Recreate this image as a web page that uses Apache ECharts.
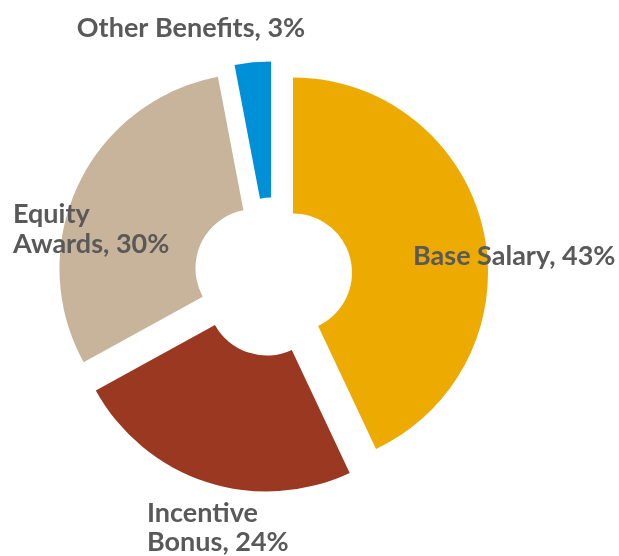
<!DOCTYPE html>
<html>
<head>
<meta charset="utf-8">
<script src="https://cdn.jsdelivr.net/npm/echarts@6/dist/echarts.min.js"></script>
<style>
  html, body { margin: 0; padding: 0; background: #fff; }
  #chart { width: 619px; height: 556px; }
</style>
</head>
<body>
<div id="chart"></div>
<script>
// slices, clockwise from 12 o'clock
const names = ['Base Salary', 'Incentive Bonus', 'Equity Awards', 'Other Benefits']
const shares = [43, 24, 30, 3]
const labelNames = ['Base Salary', 'Incentive\nBonus', 'Equity\nAwards', 'Other Benefits']

const colors = ['#EDAA00', '#9A3822', '#C8B49A', '#0090D8']
// where each label sits: [x, y, align]
const labelSpots = [[413, 256.5, 'left'], [147, 528, 'left'], [13, 229.5, 'left'], [191, 28, 'center']]

const chart = echarts.init(document.getElementById('chart'), null, { renderer: 'canvas' })

const pieCenter = [273, 277]
const pieRadius = [59, 195]

chart.setOption({
  backgroundColor: '#fff',
  series: [
    {
      // the exploded donut
      type: 'pie',
      z: 2,
      center: pieCenter,
      radius: pieRadius,
      startAngle: 90,
      selectedMode: 'multiple',
      selectedOffset: 20.5,
      silent: true,
      animation: false,
      label: { show: false },
      labelLine: { show: false },
      data: names.map((n, i) => ({
        name: n,
        value: shares[i],
        selected: true,
        itemStyle: { color: colors[i] }
      }))
    },
    {
      // labels only (slices left see-through), drawn on top
      type: 'pie',
      z: 10,
      center: pieCenter,
      radius: pieRadius,
      startAngle: 90,
      silent: true,
      animation: false,
      avoidLabelOverlap: false,
      itemStyle: { color: 'transparent' },
      label: {
        show: true,
        position: 'inside',
        formatter: p => labelNames[p.dataIndex] + ', ' + p.value + '%',
        fontFamily: 'Lato',
        fontWeight: 'bold',
        fontSize: 27,
        lineHeight: 29.5,
        color: '#595959'
      },
      labelLine: { show: false },
      labelLayout: p => ({
        x: labelSpots[p.dataIndex][0],
        y: labelSpots[p.dataIndex][1],
        align: labelSpots[p.dataIndex][2],
        verticalAlign: 'middle'
      }),
      data: names.map((n, i) => ({ name: n, value: shares[i] }))
    }
  ]
})
</script>
</body>
</html>
